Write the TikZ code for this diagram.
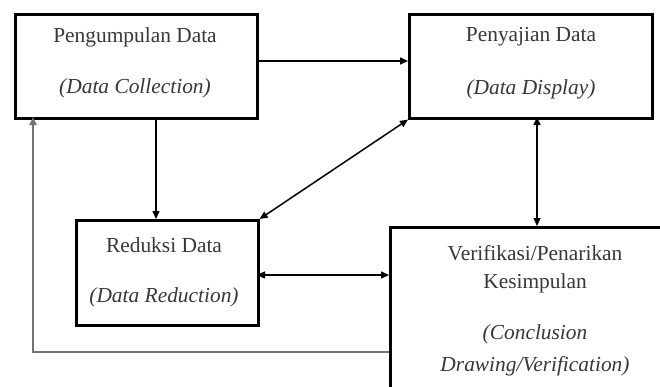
\documentclass[tikz,border=0pt]{standalone}
\usepackage{fontspec}
\setmainfont{Liberation Serif}
\usetikzlibrary{arrows.meta,calc}
\begin{document}
\begin{tikzpicture}[x=1pt,y=-1pt,
  box/.style={draw=black,line width=2.6pt,rectangle,inner sep=0pt,fill=white},
  lbl/.style={font=\fontsize{21.4}{24}\selectfont,text=black!78,inner sep=0pt},
  ilbl/.style={lbl,font=\fontsize{21.4}{24}\selectfont\itshape},
  arr/.style={line width=1.5pt,-{Triangle[length=8pt,width=7pt]}},
  darr/.style={line width=1.5pt,{Triangle[length=8pt,width=7pt]}-{Triangle[length=8pt,width=7pt]}},
  back/.style={line width=1.9pt,draw=black!55,-{Triangle[length=8pt,width=7pt]}}]
\useasboundingbox (0,0) rectangle (660,386);
\clip (0,0) rectangle (660,386);
% boxes
\node[box,minimum width=242pt,minimum height=104pt,anchor=north west] (b1) at (14,13) {};
\node[box,minimum width=243pt,minimum height=104pt,anchor=north west] (b2) at (408,13) {};
\node[box,minimum width=182pt,minimum height=105pt,anchor=north west] (b3) at (75,219) {};
\node[box,minimum width=300pt,minimum height=200pt,anchor=north west] (b4) at (389,226) {};
% texts
\node[lbl] (t1a) at (135,37) {Pengumpulan Data};
\node[ilbl] (t1b) at (135,88) {(Data Collection)};
\node[lbl] (t2a) at (531,37) {Penyajian Data};
\node[ilbl] (t2b) at (531,89) {(Data Display)};
\node[lbl] (t3a) at (164,245) {Reduksi Data};
\node[ilbl] (t3b) at (164,297) {(Data Reduction)};
\node[lbl] (t4a) at (535,253) {Verifikasi/Penarikan};
\node[lbl] (t4b) at (535,283) {Kesimpulan};
\node[ilbl] (t4c) at (535,334) {(Conclusion};
\node[ilbl] (t4d) at (535,366) {Drawing/Verification)};
% connectors
\coordinate (c1) at (256,61);
\coordinate (c2) at (156,117);
\coordinate (c3) at (537,117);
\coordinate (c4) at (257,275);
\coordinate (c5) at (389,352);
\coordinate (c6) at (33,117);
\draw[arr] (c1) -- (c1 -| b2.west);
\draw[arr] (c2) -- (c2 |- b3.north);
\draw[darr] (b2.south west) -- (b3.north east);
\draw[darr] (c3) -- (c3 |- b4.north);
\draw[darr] (c4) -- (c4 -| b4.west);
\draw[back] (c5) -- (c5 -| c6) -- (c6);
\end{tikzpicture}
\end{document}
